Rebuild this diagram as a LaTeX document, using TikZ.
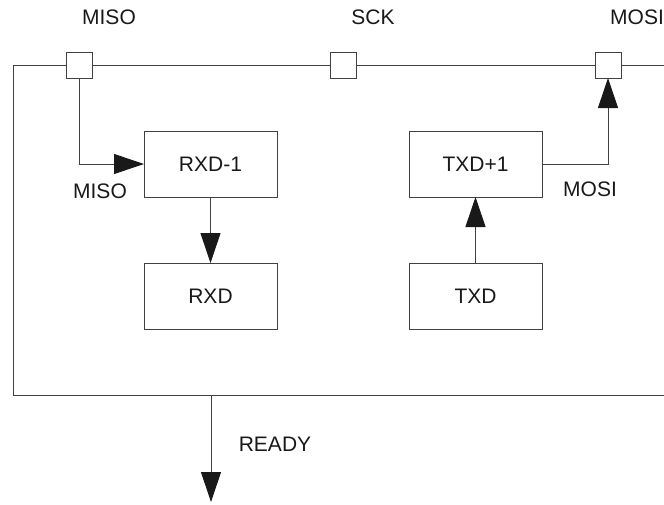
\documentclass[tikz,border=0pt]{standalone}
\usepackage{fontspec}
\setmainfont{Liberation Sans}
\usetikzlibrary{arrows.meta}
\begin{document}
\begin{tikzpicture}[x=1pt,y=-1pt,line width=1pt,draw=black!75,
	every node/.style={inner sep=0,outer sep=0,text=black!90,font=\fontsize{21}{25}\selectfont},
	pin/.style={draw=black!75,fill=white,minimum size=26pt},
	blk/.style={draw=black!75,minimum width=133pt,minimum height=66pt},
	>={Triangle[length=30pt,width=20pt,color=black!90]}]
	\useasboundingbox (0,0) rectangle (664,504);
	\draw (664,65) -- (13,65) -- (13,395) -- (664,395);
	\node (misopin) [pin] at (79,65) {};
	\node (sckpin) [pin] at (343.5,65) {};
	\node (mosipin) [pin] at (608,65) {};
	\node at (109,17) {MISO};
	\node at (373,17) {SCK};
	\node at (637,17) {MOSI};
	\node (rxdm) [blk] at (210.5,164) {RXD-1};
	\node (txdp) [blk] at (475.5,164) {TXD+1};
	\node (rxd) [blk] at (210.5,296) {RXD};
	\node (txd) [blk] at (475.5,296) {TXD};
	\draw[->] (misopin.south) |- (rxdm.west);
	\draw[->] (rxdm) edge (rxd);
	\draw[->] (txd) edge (txdp);
	\draw[->] (txdp.east) -| (mosipin.south);
	\node at (100,191) {MISO};
	\node at (590,189) {MOSI};
	\coordinate (rdy0) at (211,395);
	\coordinate (rdy) at (211,502);
	\draw[->] (rdy0) -- (rdy);
	\node at (275,444) {READY};
\end{tikzpicture}
\end{document}
